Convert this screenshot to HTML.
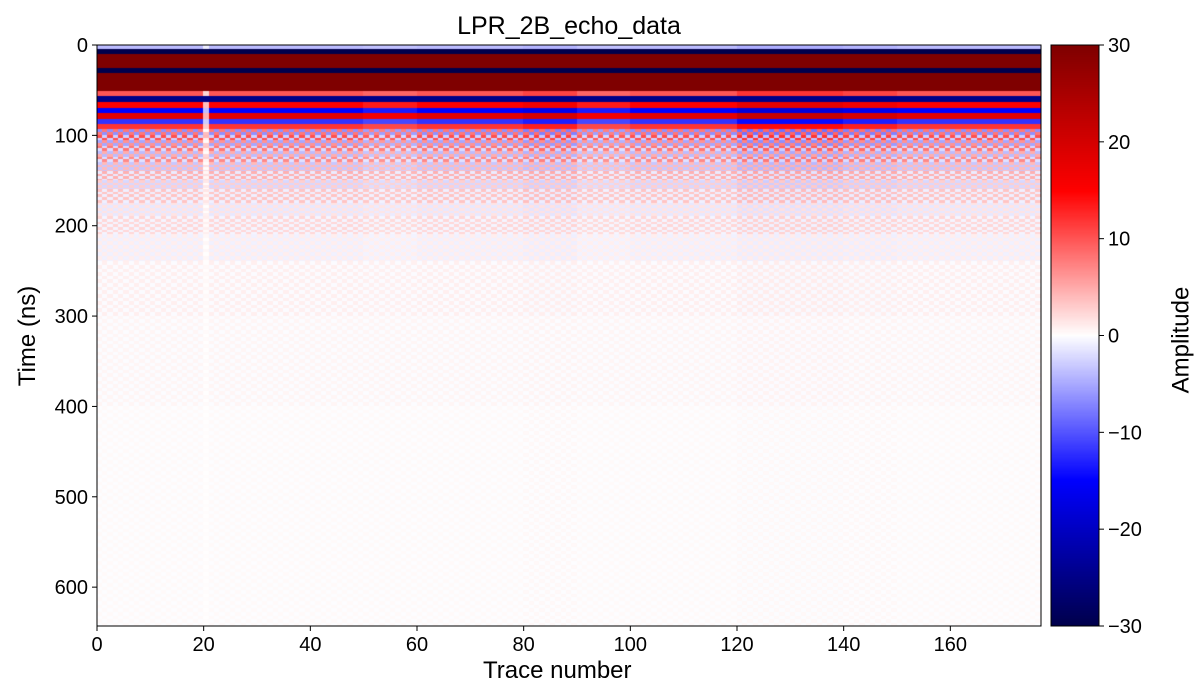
<!DOCTYPE html>
<html><head><meta charset="utf-8">
<style>
body{margin:0;background:#fff;font-family:"Liberation Sans",sans-serif;}
#wrap{position:relative;width:1200px;height:700px;}
canvas{position:absolute;}
.t{position:absolute;font-size:20px;color:#000;white-space:nowrap;}
</style></head>
<body>
<div id="wrap">
<div class="t" style="left:0;width:1138px;text-align:center;top:12px;font-size:25px;">LPR_2B_echo_data</div>
<canvas id="hm" width="944" height="581" style="left:97px;top:45px"></canvas>
<canvas id="cb" width="48" height="581" style="left:1051px;top:45px"></canvas>
<svg id="ax" width="1200" height="700" style="position:absolute;left:0;top:0"></svg>
<div class="t" style="left:483px;top:657px;font-size:24px;">Trace number</div>
<div class="t" style="left:-22px;top:322px;font-size:24px;transform:rotate(-90deg);">Time (ns)</div>
<div class="t" style="left:1128px;top:326px;font-size:24px;transform:rotate(-90deg);">Amplitude</div>
</div>
<script>
const bandTop=[0,5,11,26,32,51,57,64,70,76,82,88,94,100,106,112,118,124,130,140,150,160,175,190,210,240,300,400,643];
const bandVal=[-4,-30,30,-30,30,10,-25,15,-15,18,-12,12,-10,9,-8,7,-6,6,-5,4,-3.5,3,-2,2,-1.2,0.8,0.5,0.3];
const traceGain=[1,1,1,1,1,0.9,1,1,1.1,0.9,1,1,1.2,1.2,1.1,1,1,1];
const xTicks=[0,20,40,60,80,100,120,140,160];
const yTicks=[0,100,200,300,400,500,600];
const cTicks=[-30,-20,-10,0,10,20,30];
const nTraces=177,tMax=643,vMin=-30,vMax=30;
const X0=97,Y0=45,W=944,H=581;
const xs=v=>X0+v/nTraces*W, ys=v=>Y0+v/tMax*H;
function seis(v){let t=(Math.max(vMin,Math.min(vMax,v))-vMin)/(vMax-vMin);let r,g,b;
 if(t<.25){let f=t/.25;r=0;g=0;b=.3+.7*f;}else if(t<.5){let f=(t-.25)/.25;r=f;g=f;b=1;}
 else if(t<.75){let f=(t-.5)/.25;r=1;g=1-f;b=1-f;}else{let f=(t-.75)/.25;r=1-.5*f;g=0;b=0;}
 return `rgb(${r*255|0},${g*255|0},${b*255|0})`;}
const hm=document.getElementById('hm').getContext('2d');
function cell(c,t0,t1,v){const x0=Math.floor(xs(c)-X0),x1=Math.floor(xs(c+1)-X0),y0=Math.floor(ys(t0)-Y0),y1=Math.floor(ys(t1)-Y0);
 hm.fillStyle=seis(v);hm.fillRect(x0,y0,Math.max(1,x1-x0),Math.max(1,y1-y0));}
for(let c=0;c<nTraces;c++){
 const g=traceGain[Math.floor(c/10)]*(c===20?0.25:1);
 for(let i=0;i<bandTop.length-1;i++){
  const t0=bandTop[i],t1=bandTop[i+1];
  if(t0<94){cell(c,t0,t1,bandVal[i]*(Math.abs(bandVal[i])>=25?1:g));}
  else{const step=t0<200?3:4;for(let t=t0;t<t1;t+=step){const s=((c+Math.floor(t/step))%2)?1:-0.6;
   cell(c,t,Math.min(t+step,t1),bandVal[i]*s*g*0.9+Math.abs(bandVal[i])*0.25);}}
 }
}
const cb=document.getElementById('cb').getContext('2d');
for(let y=0;y<581;y++){cb.fillStyle=seis(vMax-(y/580)*(vMax-vMin));cb.fillRect(0,y,48,1);}
const svg=document.getElementById('ax');const NS='http://www.w3.org/2000/svg';
function el(tag,at,txt){const e=document.createElementNS(NS,tag);for(const k in at)e.setAttribute(k,at[k]);if(txt!==undefined)e.textContent=txt;svg.appendChild(e);return e;}
let r=el('rect',{x:X0,y:Y0,width:W,height:H,fill:'none',stroke:'#000','stroke-width':1});


let r2=el('rect',{x:1051,y:45,width:48,height:581,fill:'none',stroke:'#000','stroke-width':1});


xTicks.forEach(v=>{const x=xs(v);el('line',{x1:x,x2:x,y1:626,y2:631,stroke:'#000'});
 const t=el('text',{x:x,y:651,'text-anchor':'middle','font-size':20,'font-family':'Liberation Sans'},String(v));
 
 });
yTicks.forEach(v=>{const y=ys(v);el('line',{x1:92,x2:97,y1:y,y2:y,stroke:'#000'});
 const t=el('text',{x:88,y:y+7,'text-anchor':'end','font-size':20,'font-family':'Liberation Sans'},String(v));
 
 });
cTicks.forEach(v=>{const y=45+(vMax-v)/(vMax-vMin)*581;el('line',{x1:1099,x2:1104,y1:y,y2:y,stroke:'#000'});
 const t=el('text',{x:1108,y:y+7,'font-size':20,'font-family':'Liberation Sans'},v<0?'\u2212'+(-v):String(v));
 
 });
</script>
</body></html>
